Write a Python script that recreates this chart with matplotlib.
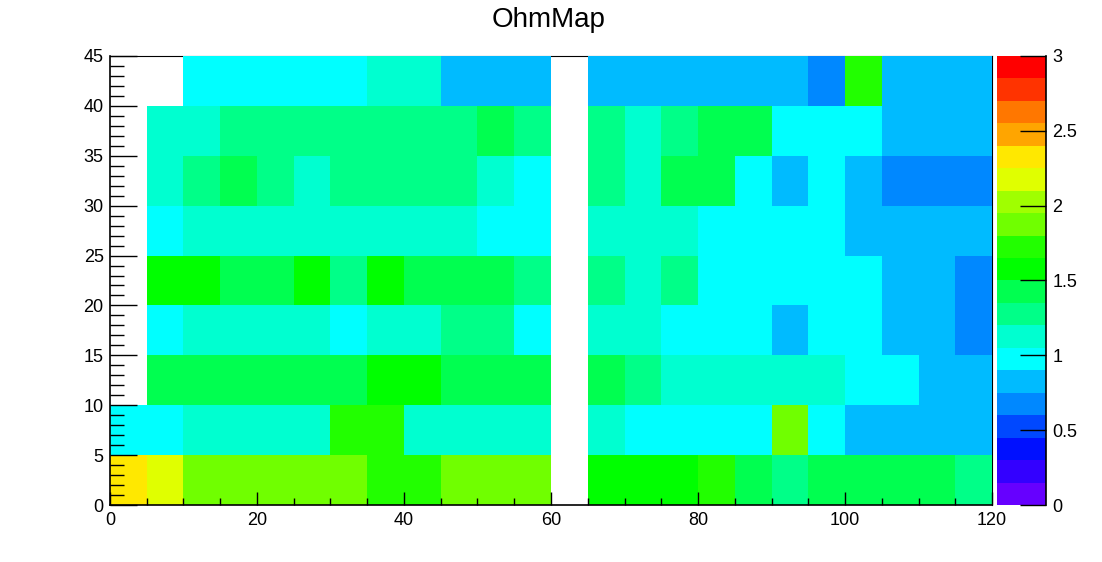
import matplotlib

matplotlib.use("Agg")
import matplotlib.pyplot as plt
import numpy as np
from matplotlib.colors import BoundaryNorm, ListedColormap
from matplotlib.ticker import MultipleLocator

# bin edges of the histogram (5 x 5 cells)
x_edges = np.arange(0, 125, 5)
y_edges = np.arange(0, 50, 5)

# resistance per cell, one list per y bin (bottom to top), nan = empty bin
row_00_05 = [2.33, 2.17, 1.88, 1.88, 1.88, 1.88, 1.88, 1.72, 1.72, 1.88, 1.88, 1.88,
             np.nan, 1.57, 1.57, 1.57, 1.72, 1.43, 1.28, 1.43, 1.43, 1.43, 1.43, 1.28]
row_05_10 = [0.97, 0.97, 1.12, 1.12, 1.12, 1.12, 1.72, 1.72, 1.12, 1.12, 1.12, 1.12,
             np.nan, 1.12, 0.97, 0.97, 0.97, 0.97, 1.88, 0.97, 0.83, 0.83, 0.83, 0.83]
row_10_15 = [np.nan, 1.43, 1.43, 1.43, 1.43, 1.43, 1.43, 1.57, 1.57, 1.43, 1.43, 1.43,
             np.nan, 1.43, 1.28, 1.12, 1.12, 1.12, 1.12, 1.12, 0.97, 0.97, 0.83, 0.83]
row_15_20 = [np.nan, 0.97, 1.12, 1.12, 1.12, 1.12, 0.97, 1.12, 1.12, 1.28, 1.28, 0.97,
             np.nan, 1.12, 1.12, 0.97, 0.97, 0.97, 0.83, 0.97, 0.97, 0.83, 0.83, 0.68]
row_20_25 = [np.nan, 1.57, 1.57, 1.43, 1.43, 1.57, 1.28, 1.57, 1.43, 1.43, 1.43, 1.28,
             np.nan, 1.28, 1.12, 1.28, 0.97, 0.97, 0.97, 0.97, 0.97, 0.83, 0.83, 0.68]
row_25_30 = [np.nan, 0.97, 1.12, 1.12, 1.12, 1.12, 1.12, 1.12, 1.12, 1.12, 0.97, 0.97,
             np.nan, 1.12, 1.12, 1.12, 0.97, 0.97, 0.97, 0.97, 0.83, 0.83, 0.83, 0.83]
row_30_35 = [np.nan, 1.12, 1.28, 1.43, 1.28, 1.12, 1.28, 1.28, 1.28, 1.28, 1.12, 0.97,
             np.nan, 1.28, 1.12, 1.43, 1.43, 0.97, 0.83, 0.97, 0.83, 0.68, 0.68, 0.68]
row_35_40 = [np.nan, 1.12, 1.12, 1.28, 1.28, 1.28, 1.28, 1.28, 1.28, 1.28, 1.43, 1.28,
             np.nan, 1.28, 1.12, 1.28, 1.43, 1.43, 0.97, 0.97, 0.97, 0.83, 0.83, 0.83]
row_40_45 = [np.nan, np.nan, 0.97, 0.97, 0.97, 0.97, 0.97, 1.12, 1.12, 0.83, 0.83, 0.83,
             np.nan, 0.83, 0.83, 0.83, 0.83, 0.83, 0.83, 0.68, 1.72, 0.83, 0.83, 0.83]

# ROOT style palette, 20 contour levels from 0 to 3
palette = [
    "#6600ff", "#3300ff", "#0010ff", "#0048ff", "#0088ff",
    "#00bbff", "#00ffff", "#00ffd0", "#00ff88", "#00ff50",
    "#00ff00", "#22ff00", "#70ff00", "#a0ff00", "#e0ff00",
    "#ffe800", "#ffa500", "#ff7700", "#ff3300", "#ff0000",
]
z_min, z_max = 0.0, 3.0
cbar_ticks = [0, 0.5, 1, 1.5, 2, 2.5, 3]


def build_map() -> np.ndarray:
    rows = [row_00_05, row_05_10, row_10_15, row_15_20, row_20_25,
            row_25_30, row_30_35, row_35_40, row_40_45]
    return np.ma.masked_invalid(np.array(rows, dtype=float))


def main() -> None:
    plt.rcParams["font.family"] = ["Liberation Sans", "DejaVu Sans"]
    fig = plt.figure(figsize=(11.02, 5.62), dpi=100)
    ax = fig.add_axes([0.0998, 0.1014, 0.8004, 0.799])
    cax = fig.add_axes([0.9047, 0.1014, 0.0445, 0.799])

    levels = np.linspace(z_min, z_max, len(palette) + 1)
    cmap = ListedColormap(palette)
    norm = BoundaryNorm(levels, cmap.N)

    mesh = ax.pcolormesh(x_edges, y_edges, build_map(), cmap=cmap, norm=norm, zorder=1)
    ax.set_xlim(x_edges[0], x_edges[-1])
    ax.set_ylim(y_edges[0], y_edges[-1])
    ax.set_axisbelow(False)

    ax.xaxis.set_major_locator(MultipleLocator(20))
    ax.xaxis.set_minor_locator(MultipleLocator(5))
    ax.yaxis.set_major_locator(MultipleLocator(5))
    ax.yaxis.set_minor_locator(MultipleLocator(1))
    ax.tick_params(axis="x", which="major", direction="in", length=9.7, width=1.0, labelsize=13, pad=5)
    ax.tick_params(axis="x", which="minor", direction="in", length=4.8, width=1.0)
    ax.tick_params(axis="y", which="major", direction="in", length=19.4, width=1.0, labelsize=13, pad=4.5)
    ax.tick_params(axis="y", which="minor", direction="in", length=10, width=1.0)
    for side in ("top", "right"):
        ax.spines[side].set_zorder(0.5)
        ax.spines[side].set_linewidth(0.8)
    for side in ("left", "bottom"):
        ax.spines[side].set_linewidth(1.2)

    cbar = fig.colorbar(mesh, cax=cax, ticks=cbar_ticks)
    cbar.outline.set_visible(False)
    cbar.ax.set_yticklabels([f"{t:g}" for t in cbar_ticks])
    cbar.ax.tick_params(direction="in", length=18.7, width=1.0, labelsize=13, pad=4.5)
    cbar.ax.minorticks_off()
    cax.plot([1, 1], [0, 1], transform=cax.transAxes, color="black", lw=1.2, clip_on=False)

    fig.text(549 / 1102, 1 - 20 / 562, "OhmMap", ha="center", va="center", fontsize=20)

    fig.savefig("out.png", dpi=100)
    plt.close(fig)


if __name__ == "__main__":
    main()
